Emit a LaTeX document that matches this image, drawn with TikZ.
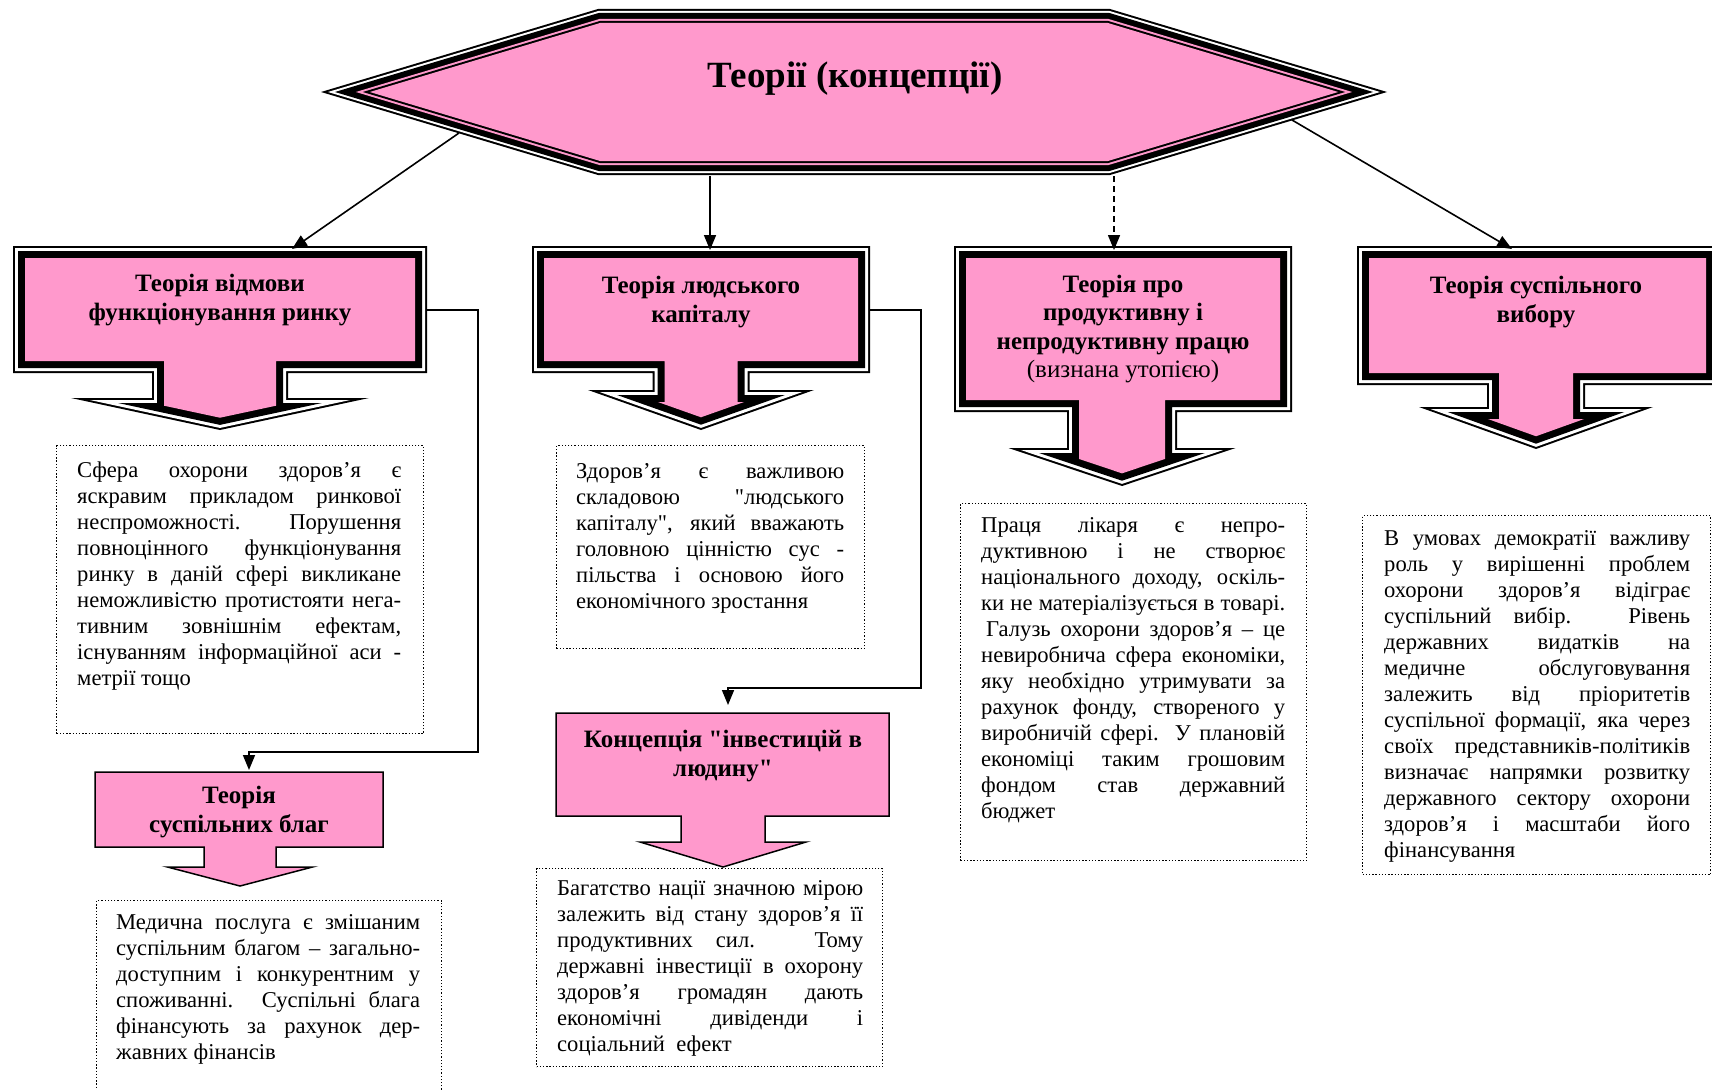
\documentclass[tikz,border=0pt]{standalone}
\usepackage{fontspec}
\setmainfont{Liberation Serif}[Ligatures=TeXOff]
\usetikzlibrary{arrows.meta}
\definecolor{pinkf}{RGB}{255,153,204}
\newcommand\jl[1]{\hbox to \hsize{#1}}
\newcommand\el[1]{\hbox{#1}}
\newcommand\para[2]{\vtop{\hsize=#1pt #2}}
\newcommand\setco[9]{\def\kL{#1}\def\kT{#2}\def\kR{#3}\def\kB{#4}\def\kTX{#5}\def\kSW{#6}\def\kAY{#7}\def\kHW{#8}\def\kTY{#9}}
\newcommand\coLayer[2]{%
 \pgfmathsetmacro\coM{(\kTY-\kAY)/\kHW}%
 \pgfmathsetmacro\coIC{sqrt(1+\coM*\coM)}%
 \pgfmathsetmacro\coXL{\kL+#1}%
 \pgfmathsetmacro\coXR{\kR-#1}%
 \pgfmathsetmacro\coYT{\kT+#1}%
 \pgfmathsetmacro\coYB{\kB-#1}%
 \pgfmathsetmacro\coSW{\kSW-#1}%
 \pgfmathsetmacro\coAY{\kAY+#1}%
 \pgfmathsetmacro\coTY{\kTY-#1*\coIC}%
 \pgfmathsetmacro\coHW{\kHW-#1*(1+\coIC)/\coM}%
 \pgfmathsetmacro\coYS{\coTY-\coM*\coSW}%
 \pgfmathsetmacro\coYA{min(\coYS,\coAY)}%
 \pgfmathsetmacro\coHX{max(\coHW,\coSW)}%
 \path[#2] (\coXL,\coYT) -- (\coXR,\coYT) -- (\coXR,\coYB) -- (\kTX+\coSW,\coYB) -- (\kTX+\coSW,\coYA) -- (\kTX+\coHX,\coYA) -- (\kTX,\coTY) -- (\kTX-\coHX,\coYA) -- (\kTX-\coSW,\coYA) -- (\kTX-\coSW,\coYB) -- (\coXL,\coYB) -- cycle;}
\newcommand\dblco{\coLayer{0}{fill=black}\coLayer{2}{fill=white}\coLayer{5}{fill=black}\coLayer{12}{fill=pinkf}}
\newcommand\hexLayer[2]{%
 \pgfmathsetmacro\hxB{atan(83/277)}%
 \pgfmathsetmacro\hxA{533-#1/sin(\hxB)}%
 \pgfmathsetmacro\hxBB{256-#1*tan(\hxB/2)}%
 \pgfmathsetmacro\hxH{83-#1}%
 \path[#2] (854-\hxA,92) -- (854-\hxBB,92-\hxH) -- (854+\hxBB,92-\hxH) -- (854+\hxA,92) -- (854+\hxBB,92+\hxH) -- (854-\hxBB,92+\hxH) -- cycle;}
\begin{document}
\begin{tikzpicture}[x=1pt,y=-1pt,
 body/.style={font=\fontsize{22.6}{26}\selectfont, inner sep=0pt, anchor=base west},
 btl/.style={font=\fontsize{25}{28.5}\selectfont\bfseries, align=center, inner sep=0pt},
 conn/.style={line width=1.6pt, -{Triangle[length=15pt,width=12pt]}},
 dbox/.style={draw, line width=1.3pt, dash pattern=on 1.3pt off 1.9pt, anchor=north west, inner sep=0pt}]
\useasboundingbox (0,0) rectangle (1712,1089);
\clip (0,0) rectangle (1712,1089);
\fill[white] (0,0) rectangle (1712,1089);

% root hexagon
\hexLayer{0}{fill=black}
\hexLayer{2}{fill=white}
\hexLayer{4}{fill=black}
\hexLayer{10}{fill=pinkf}
\hexLayer{12}{fill=black}
\hexLayer{14}{fill=pinkf}
\node[font=\fontsize{37}{42}\selectfont\bfseries] (root) at (855,79) {Теорії (концепції)};

% callouts
\setco{13}{246}{427}{373}{220}{68}{398}{149}{430}\dblco
\setco{532}{246}{870}{373}{701}{48.5}{390}{113}{430}\dblco
\setco{954}{246}{1292}{412}{1122}{55}{448}{113.5}{486}\dblco
\setco{1357}{246}{1718}{385}{1536}{49}{407}{117}{449}\dblco
\setco{95}{772}{383}{847}{240}{36}{867}{72.5}{886}\coLayer{0}{fill=pinkf,draw=black,line width=1.5pt}
\setco{556}{713}{889}{816}{723}{42}{842}{83}{867}\coLayer{0}{fill=pinkf,draw=black,line width=1.5pt}

\node[btl] (t1) at (220,300) {Теорія відмови\\функціонування ринку};
\node[btl] (t2) at (701,302) {Теорія людського\\капіталу};
\node[btl] (t3) at (1123,329) {Теорія про\\продуктивну і\\непродуктивну працю\\\mdseries(визнана утопією)};
\node[btl] (t4) at (1536,302) {Теорія суспільного\\вибору};
\node[btl] (t5) at (239,812) {Теорія\\суспільних благ};
\node[btl] (t6) at (723,756) {Концепція "інвестицій в\\людину"};

% dotted boxes
\node[dbox, minimum width=367pt, minimum height=288pt] (d1) at (56,445) {};
\node[dbox, minimum width=308pt, minimum height=203pt] (d2) at (556,445) {};
\node[dbox, minimum width=346pt, minimum height=357pt] (d3) at (960,503) {};
\node[dbox, minimum width=348pt, minimum height=359pt] (d4) at (1362,515) {};
\node[dbox, minimum width=345pt, minimum height=260pt] (d5) at (96,900) {};
\node[dbox, minimum width=346pt, minimum height=198pt] (d6) at (536,868) {};

\node[body] (x1) at (77,477) {\para{324}{\jl{Сфера охорони здоров’я є}\jl{яскравим прикладом ринкової}\jl{неспроможності. Порушення}\jl{повноцінного функціонування}\jl{ринку в даній сфері викликане}\jl{неможливістю протистояти нега-}\jl{тивним зовнішнім ефектам,}\jl{існуванням інформаційної аси -}\el{метрії тощо}}};
\node[body] (x2) at (576,478) {\para{268}{\jl{Здоров’я є важливою}\jl{складовою "людського}\jl{капіталу", який вважають}\jl{головною цінністю сус -}\jl{пільства і основою його}\el{економічного зростання}}};
\node[body] (x3) at (981,532) {\para{304}{\jl{Праця лікаря є непро-}\jl{дуктивною і не створює}\jl{національного доходу, оскіль-}\jl{ки не матеріалізується в товарі.}\jl{\kern5pt Галузь охорони здоров’я – це}\jl{невиробнича сфера економіки,}\jl{яку необхідно утримувати за}\jl{рахунок фонду, створеного у}\jl{виробничій сфері. У плановій}\jl{економіці таким грошовим}\jl{фондом став державний}\el{бюджет}}};
\node[body] (x4) at (1384,545) {\para{306}{\jl{В умовах демократії важливу}\jl{роль у вирішенні проблем}\jl{охорони здоров’я відіграє}\jl{суспільний вибір. Рівень}\jl{державних видатків на}\jl{медичне обслуговування}\jl{залежить від пріоритетів}\jl{суспільної формації, яка через}\jl{своїх представників-політиків}\jl{визначає напрямки розвитку}\jl{державного сектору охорони}\jl{здоров’я і масштаби його}\el{фінансування}}};
\node[body] (x5) at (116,929) {\para{304}{\jl{Медична послуга є змішаним}\jl{суспільним благом – загально-}\jl{доступним і конкурентним у}\jl{споживанні. Суспільні блага}\jl{фінансують за рахунок дер-}\el{жавних фінансів}}};
\node[body] (x6) at (557,895) {\para{306}{\jl{Багатство нації значною мірою}\jl{залежить від стану здоров’я її}\jl{продуктивних сил. Тому}\jl{державні інвестиції в охорону}\jl{здоров’я громадян дають}\jl{економічні дивіденди і}\el{соціальний~ ефект}}};

% connectors
\coordinate (h1) at (459,133); \coordinate (a1) at (292,249);
\coordinate (h2) at (710,176); \coordinate (a2) at (710,250);
\coordinate (h3) at (1114,176); \coordinate (a3) at (1114,250);
\coordinate (h4) at (1292,120); \coordinate (a4) at (1512,249);
\coordinate (e1) at (427,310); \coordinate (a5) at (249,770);
\coordinate (e2) at (870,310); \coordinate (a6) at (728,705);
\draw[conn] (h1) -- (a1);
\draw[conn] (h2) -- (a2);
\draw[conn, dash pattern=on 6pt off 4pt] (h3) -- (a3);
\draw[conn] (h4) -- (a4);
\draw[conn] (e1) -- (478,310) -- (478,752) -- (a5 |- 0,752) -- (a5);
\draw[conn] (e2) -- (921,310) -- (921,688) -- (a6 |- 0,688) -- (a6);
\end{tikzpicture}
\end{document}
